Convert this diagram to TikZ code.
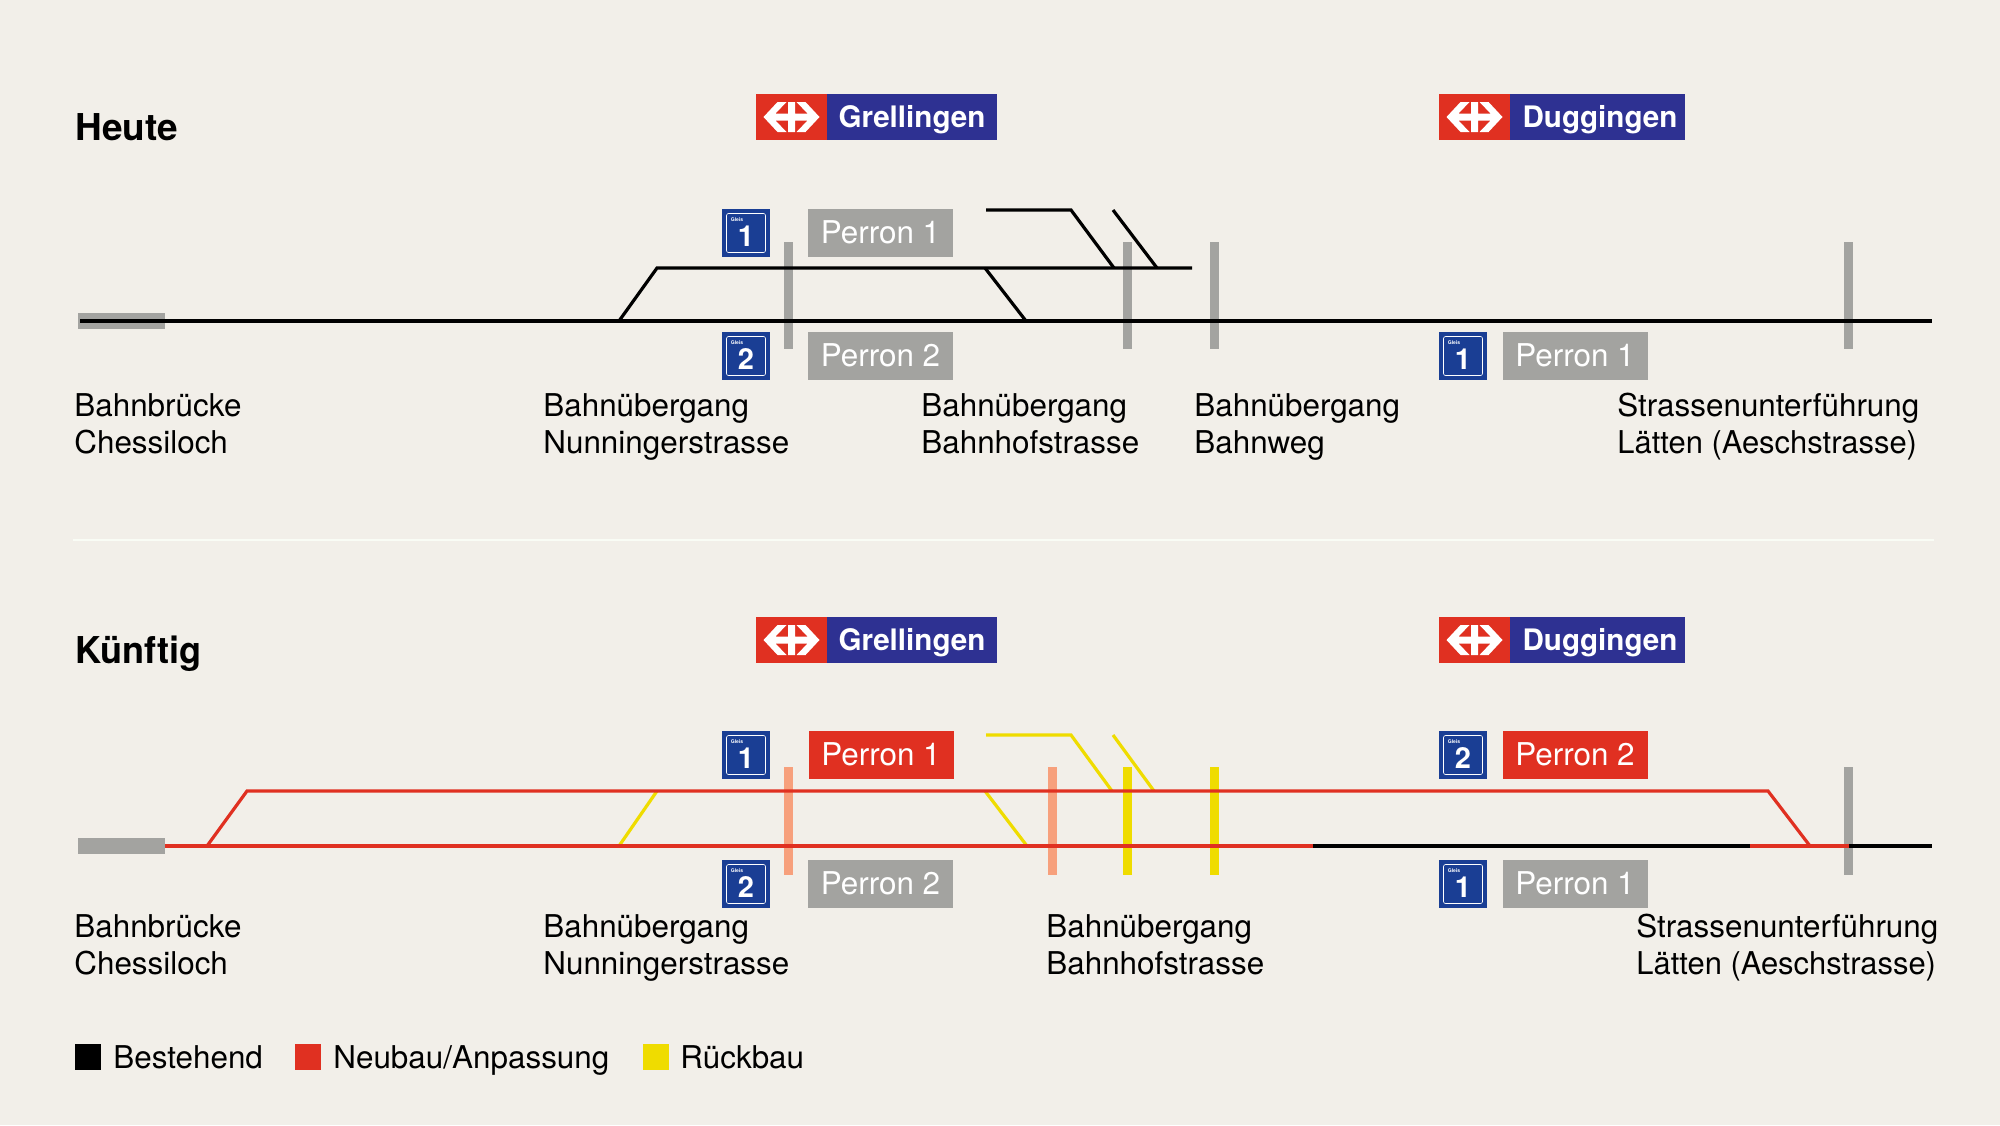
\documentclass[tikz,border=0pt]{standalone}
\usepackage{fontspec}
\setmainfont{TeX Gyre Heros}
\definecolor{bg}{HTML}{F2EFE9}
\definecolor{sbbred}{HTML}{E03021}
\definecolor{signblue}{HTML}{2E3192}
\definecolor{gleisblue}{HTML}{1A3E94}
\definecolor{platgray}{HTML}{A3A3A0}
\definecolor{salmon}{HTML}{F7A07C}
\definecolor{ryellow}{HTML}{EFDC00}
\definecolor{divider}{HTML}{F9FCF5}
\tikzset{
  x=0.5pt,y=-0.5pt,
  track/.style={line width=1.6pt,line join=miter},
  blacktrack/.style={track,draw=black},
  redtrack/.style={track,draw=sbbred},
  yellowtrack/.style={track,draw=ryellow},
  perron/.style={fill=#1,text=white,minimum width=72.5pt,minimum height=24pt,inner sep=0pt,text height=11.2pt,text depth=1.2pt,font=\fontsize{15.7}{18}\selectfont},
  signname/.style={fill=signblue,text=white,inner sep=0pt,minimum height=23pt,text height=10.6pt,text depth=0pt,font=\bfseries\fontsize{14.8}{17}\selectfont},
  signflag/.style={fill=sbbred,inner sep=0pt,minimum width=35.5pt,minimum height=23pt},
  gleis/.style={fill=gleisblue,text=white,minimum width=24pt,minimum height=24pt,inner sep=0pt,text height=10pt,text depth=0pt,font=\bfseries\fontsize{14.5}{15}\selectfont},
  label/.style={anchor=west,align=left,inner sep=0pt,font=\fontsize{15.7}{18.5}\selectfont},
  heading/.style={anchor=west,inner sep=0pt,text height=13.2pt,text depth=0pt,font=\bfseries\fontsize{18.5}{22}\selectfont},
  legendtext/.style={anchor=west,inner sep=0pt,text height=11.2pt,text depth=0pt,font=\fontsize{15.7}{18}\selectfont},
  legendbox/.style={minimum width=13pt,minimum height=13pt,inner sep=0pt},
  barstyle/.style={fill=#1,draw=none},
  pics/sbbmark/.style={code={
    \fill[white] (-28,0)--(-14,-15)--(-5,-15)--(-16,-3.5)--(-3.5,-3.5)--(-3.5,-15)--(3.5,-15)--(3.5,-3.5)--(16,-3.5)--(5,-15)--(14,-15)--(28,0)--(14,15)--(5,15)--(16,3.5)--(3.5,3.5)--(3.5,15)--(-3.5,15)--(-3.5,3.5)--(-16,3.5)--(-5,15)--(-14,15)--cycle;
  }},
  pics/gleisframe/.style={code={
    \draw[white,line width=0.3pt,rounded corners=1pt] (-19.5,-19.5) rectangle (19.5,19.5);
    \node[text=white,inner sep=0pt,font=\bfseries\fontsize{2.5}{3}\selectfont] at (-9,-13.5) {Gleis};
  }}
}
\newcommand{\platbar}[4]{\fill[barstyle=#1] (#2,#3) rectangle (#2+9,#4);}
\newcommand{\gnum}[1]{\raisebox{-1.75pt}{#1}}
\newcommand{\twolines}[2]{\strut #1\\\strut #2}
\begin{document}
\begin{tikzpicture}
\useasboundingbox (0,0) rectangle (2000,1125);
\fill[bg] (0,0) rectangle (2000,1125);

% ---------- Heute ----------
\node[heading] (h1) at (75,127.5) {Heute};
\node[signflag] (sg1f) at (791.5,117) {};
\node[signname,minimum width=85pt] (sg1) at (912,117) {Grellingen};
\pic at (sg1f.center) {sbbmark};
\node[signflag] (sd1f) at (1474.5,117) {};
\node[signname,minimum width=87.5pt] (sd1) at (1597.5,117) {\hspace*{2.5pt}Duggingen};
\pic at (sd1f.center) {sbbmark};

\node[gleis] (g11) at (746,233) {\gnum{1}};
\pic at (g11.center) {gleisframe};
\node[gleis] (g12) at (746,356) {\gnum{2}};
\pic at (g12.center) {gleisframe};
\node[perron=platgray] (p11) at (880.5,233) {Perron 1};
\node[perron=platgray] (p12) at (880.5,356) {Perron 2};
\node[gleis] (g13) at (1463,356) {\gnum{1}};
\pic at (g13.center) {gleisframe};
\node[perron=platgray] (p13) at (1575,356) {Perron 1};

\fill[barstyle=platgray] (78,313) rectangle (165,329);
\platbar{platgray}{784}{242}{349}
\platbar{platgray}{1123}{242}{349}
\platbar{platgray}{1210}{242}{349}
\platbar{platgray}{1844}{242}{349}

\coordinate (a0) at (80,321);
\coordinate (a1) at (1932,321);
\coordinate (a2) at (619,321);
\coordinate (a3) at (657,268);
\coordinate (a4) at (1192,268);
\coordinate (a5) at (985,268);
\coordinate (a6) at (1026,321);
\coordinate (a7) at (986,210);
\coordinate (a8) at (1071,210);
\coordinate (a9) at (1114,268);
\coordinate (a10) at (1113,210);
\coordinate (a11) at (1157,268);
\draw[blacktrack] (a0) -- (a1);
\draw[blacktrack] (a2) -- (a3) -- (a4);
\draw[blacktrack] (a5) -- (a6);
\draw[blacktrack] (a7) -- (a8) -- (a9);
\draw[blacktrack] (a10) -- (a11);

\node[label] (l11) at (74,428) {\twolines{Bahnbrücke}{Chessiloch}};
\node[label] (l12) at (543,428) {\twolines{Bahnübergang}{Nunningerstrasse}};
\node[label] (l13) at (921,428) {\twolines{Bahnübergang}{Bahnhofstrasse}};
\node[label] (l14) at (1194,428) {\twolines{Bahnübergang}{Bahnweg}};
\node[label] (l15) at (1617,428) {\twolines{Strassenunterführung}{\scalebox{0.985}[1]{Lätten (Aeschstrasse)}}};

\coordinate (d0) at (73,540);
\coordinate (d1) at (1934,540);
\draw[divider,line width=1.3pt] (d0) -- (d1);

% ---------- Kuenftig ----------
\node[heading] (h2) at (75,650.5) {\scalebox{0.975}[1]{Künftig}};
\node[signflag] (sg2f) at (791.5,640) {};
\node[signname,minimum width=85pt] (sg2) at (912,640) {Grellingen};
\pic at (sg2f.center) {sbbmark};
\node[signflag] (sd2f) at (1474.5,640) {};
\node[signname,minimum width=87.5pt] (sd2) at (1597.5,640) {\hspace*{2.5pt}Duggingen};
\pic at (sd2f.center) {sbbmark};

\node[gleis] (g21) at (746,755) {\gnum{1}};
\pic at (g21.center) {gleisframe};
\node[gleis] (g22) at (746,884) {\gnum{2}};
\pic at (g22.center) {gleisframe};
\node[perron=sbbred] (p21) at (881,755) {Perron 1};
\node[perron=platgray] (p22) at (880.5,884) {Perron 2};
\node[gleis] (g23) at (1463,755) {\gnum{2}};
\pic at (g23.center) {gleisframe};
\node[perron=sbbred] (p23) at (1575,755) {Perron 2};
\node[gleis] (g24) at (1463,884) {\gnum{1}};
\pic at (g24.center) {gleisframe};
\node[perron=platgray] (p24) at (1575,884) {Perron 1};

\fill[barstyle=platgray] (78,838) rectangle (165,854);
\platbar{salmon}{784}{767}{875}
\platbar{salmon}{1048}{767}{875}
\platbar{ryellow}{1123}{767}{875}
\platbar{ryellow}{1210}{767}{875}
\platbar{platgray}{1844}{767}{875}

\coordinate (b0) at (165,846);
\coordinate (b1) at (1313,846);
\coordinate (b2) at (1750,846);
\coordinate (b3) at (1849,846);
\coordinate (b4) at (1932,846);
\coordinate (b5) at (207,846);
\coordinate (b6) at (247,791);
\coordinate (b7) at (1768,791);
\coordinate (b8) at (1810,846);
\coordinate (y1) at (619,846);
\coordinate (y2) at (657,791);
\coordinate (y3) at (985,791);
\coordinate (y4) at (1027,846);
\coordinate (y5) at (986,735);
\coordinate (y6) at (1071,735);
\coordinate (y7) at (1112,791);
\coordinate (y8) at (1113,735);
\coordinate (y9) at (1154,791);
\draw[yellowtrack] (y1) -- (y2);
\draw[yellowtrack] (y3) -- (y4);
\draw[yellowtrack] (y5) -- (y6) -- (y7);
\draw[yellowtrack] (y8) -- (y9);
\draw[blacktrack] (b1) -- (b2);
\draw[blacktrack] (b3) -- (b4);
\draw[redtrack] (b0) -- (b1);
\draw[redtrack] (b2) -- (b3);
\draw[redtrack] (b5) -- (b6) -- (b7) -- (b8);

\node[label] (l21) at (74,949) {\twolines{Bahnbrücke}{Chessiloch}};
\node[label] (l22) at (543,949) {\twolines{Bahnübergang}{Nunningerstrasse}};
\node[label] (l23) at (1046,949) {\twolines{Bahnübergang}{Bahnhofstrasse}};
\node[label] (l25) at (1636,949) {\twolines{Strassenunterführung}{\scalebox{0.985}[1]{Lätten (Aeschstrasse)}}};

% ---------- Legend ----------
\node[legendbox,fill=black] (k1) at (88,1057) {};
\node[legendtext] (t1) at (113,1057) {Bestehend};
\node[legendbox,fill=sbbred] (k2) at (307.5,1057) {};
\node[legendtext] (t2) at (333,1057) {Neubau/Anpassung};
\node[legendbox,fill=ryellow] (k3) at (655.5,1057) {};
\node[legendtext] (t3) at (680,1057) {Rückbau};
\end{tikzpicture}
\end{document}
